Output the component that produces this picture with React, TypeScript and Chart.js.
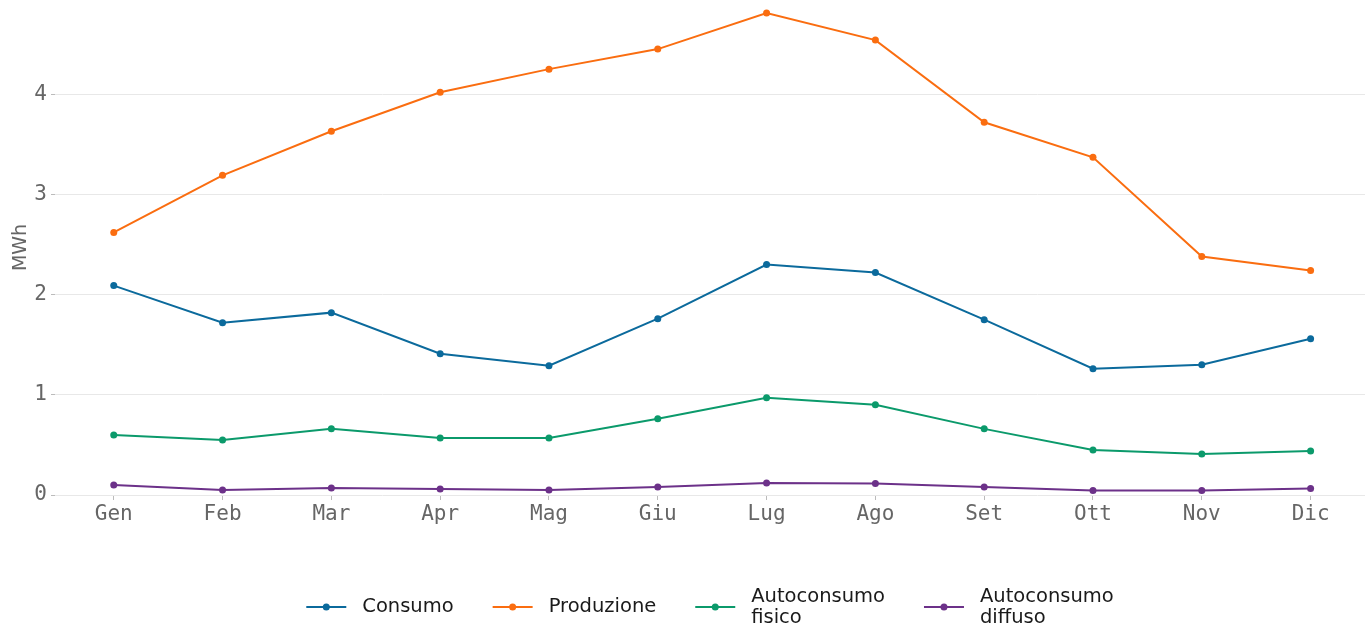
import React, { useEffect, useRef } from 'react';
import { Chart, registerables } from 'chart.js';

Chart.register(...registerables);

const categories = ['Gen', 'Feb', 'Mar', 'Apr', 'Mag', 'Giu', 'Lug', 'Ago', 'Set', 'Ott', 'Nov', 'Dic'];
const consumo = [2.09, 1.72, 1.82, 1.41, 1.29, 1.76, 2.30, 2.22, 1.75, 1.26, 1.30, 1.56];
const produzione = [2.62, 3.19, 3.63, 4.02, 4.25, 4.45, 4.81, 4.54, 3.72, 3.37, 2.38, 2.24];
const autoconsumoFisico = [0.60, 0.55, 0.66, 0.57, 0.57, 0.76, 0.97, 0.90, 0.66, 0.45, 0.41, 0.44];
const autoconsumoDiffuso = [0.10, 0.05, 0.07, 0.06, 0.05, 0.08, 0.12, 0.115, 0.08, 0.045, 0.045, 0.065];
const seriesLabels = ['Consumo', 'Produzione', 'Autoconsumo\nfisico', 'Autoconsumo\ndiffuso'];
const seriesColors = ['#0b6a9c', '#fa6d10', '#0b9a6b', '#6c3189'];
const yTicks = [0, 1, 2, 3, 4];

const legendPlugin = {
  id: 'bottomLegend',
  afterDraw(chart: any) {
    const ctx = chart.ctx;
    const area = chart.chartArea;
    ctx.save();
    ctx.font = '19.5px "DejaVu Sans"';
    const items = chart.data.datasets.map((ds: any) => {
      const lines = String(ds.label).split('\n');
      const w = Math.max(...lines.map((l: string) => ctx.measureText(l).width));
      return { lines, w, color: ds.borderColor };
    });
    const markerW = 40, gap = 16, itemGap = 39, lh = 21;
    const total = items.reduce((s: number, it: any) => s + markerW + gap + it.w, 0) + itemGap * (items.length - 1);
    let x = (area.left + area.right) / 2 - total / 2;
    const cy = chart.height - 21;
    items.forEach((it: any) => {
      ctx.strokeStyle = it.color;
      ctx.lineWidth = 2;
      ctx.beginPath();
      ctx.moveTo(x, cy);
      ctx.lineTo(x + markerW, cy);
      ctx.stroke();
      ctx.fillStyle = it.color;
      ctx.beginPath();
      ctx.arc(x + markerW / 2, cy, 3.5, 0, Math.PI * 2);
      ctx.fill();
      ctx.fillStyle = '#1a1a1a';
      ctx.textBaseline = 'middle';
      ctx.textAlign = 'left';
      const y0 = cy - ((it.lines.length - 1) * lh) / 2;
      it.lines.forEach((l: string, i: number) => ctx.fillText(l, x + markerW + gap, y0 + i * lh));
      x += markerW + gap + it.w + itemGap;
    });
    ctx.restore();
  },
};

export default function App() {
  const canvasRef = useRef<HTMLCanvasElement | null>(null);

  useEffect(() => {
    if (!canvasRef.current) return;
    const series = [consumo, produzione, autoconsumoFisico, autoconsumoDiffuso];
    const chart = new Chart(canvasRef.current, {
      type: 'line',
      data: {
        datasets: series.map((vals, si) => ({
          label: seriesLabels[si],
          data: vals.map((v, i) => ({ x: i, y: v })),
          borderColor: seriesColors[si],
          backgroundColor: seriesColors[si],
          pointBackgroundColor: seriesColors[si],
          pointBorderWidth: 0,
          pointRadius: 3.5,
          borderWidth: 2,
          tension: 0,
          clip: false as any,
        })),
      },
      options: {
        animation: false,
        responsive: true,
        maintainAspectRatio: false,
        layout: { autoPadding: false, padding: { left: 0, right: 0, top: 0, bottom: 93 } },
        plugins: {
          legend: { display: false },
          tooltip: { enabled: false },
        },
        scales: {
          x: {
            type: 'linear',
            min: -0.54,
            max: 11.5,
            afterBuildTicks: (s: any) => {
              s.ticks = categories.map((_, i) => ({ value: i }));
            },
            afterFit: (s: any) => {
              s.height = 40;
              s.paddingLeft = 0;
              s.paddingRight = 0;
            },
            ticks: {
              callback: (v: any) => categories[v] ?? '',
              font: { family: '"DejaVu Sans Mono"', size: 21 },
              color: '#666',
              padding: 2,
              autoSkip: false,
              maxRotation: 0,
            },
            grid: { drawOnChartArea: false, drawTicks: true, tickLength: 5, tickColor: '#bbb' },
            border: { display: false },
          },
          y: {
            type: 'linear',
            min: 0,
            max: 4.94,
            afterBuildTicks: (s: any) => {
              s.ticks = yTicks.map((v) => ({ value: v }));
            },
            afterFit: (s: any) => {
              s.width = 55;
              s.paddingTop = 0;
              s.paddingBottom = 0;
            },
            ticks: {
              font: { family: '"DejaVu Sans Mono"', size: 21 },
              color: '#666',
              padding: 4,
            },
            grid: { color: '#e8e8e8', tickLength: 4, tickColor: '#bbb' },
            border: { display: false },
            title: {
              display: true,
              text: 'MWh',
              color: '#666',
              font: { family: '"DejaVu Sans"', size: 19 },
              padding: { top: 10, bottom: 0 },
            },
          },
        },
      },
      plugins: [legendPlugin],
    });
    return () => chart.destroy();
  }, []);

  return (
    <div style={{ position: 'fixed', left: 0, top: 0, width: 1365, height: 628, background: '#fff' }}>
      <canvas ref={canvasRef} />
    </div>
  );
}
